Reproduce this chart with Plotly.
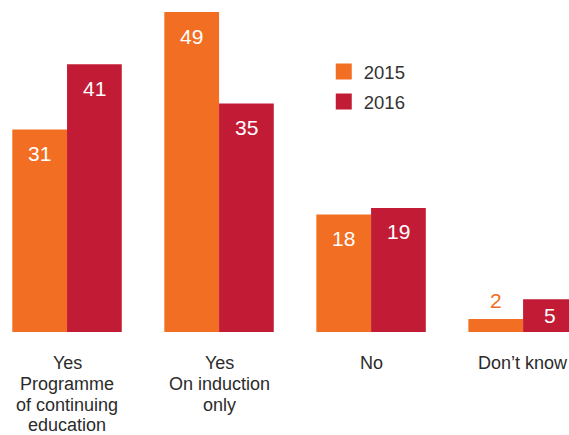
import plotly.graph_objects as go

categories = ["Yes<br>Programme<br>of continuing<br>education", "Yes<br>On induction<br>only", "No", "Don’t know"]
years = ["2015", "2016"]
values_2015 = [31, 49, 18, 2]
values_2016 = [41, 35, 19, 5]
colors = ["#F26E22", "#C21B35"]

xpos = list(range(len(categories)))
fig = go.Figure()
series = [values_2015, values_2016]
font = "Liberation Sans, Arial, sans-serif"
for name, vals, col in zip(years, series, colors):
    fig.add_trace(go.Bar(x=xpos, y=vals, name=name, marker_color=col,
                         marker_line_width=0, showlegend=False))
# legend proxies with larger square symbols
for name, col in zip(years, colors):
    fig.add_trace(go.Scatter(x=[None], y=[None], mode="markers", name=name,
                             legendgroup=name,
                             marker=dict(symbol="square", size=16, color=col)))

offset = 0.18
px_per_unit = 320.5 / 49
for i, (vals, col) in enumerate(zip(series, colors)):
    dx = -offset if i == 0 else offset
    for x, v in zip(xpos, vals):
        h = v * px_per_unit
        if h > 50:
            fig.add_annotation(x=x + dx, y=v, yshift=-24, text=str(v), showarrow=False,
                               font=dict(color="white", size=21, family=font))
        elif h > 25:
            fig.add_annotation(x=x + dx, y=v / 2, text=str(v), showarrow=False,
                               font=dict(color="white", size=21, family=font))
        else:
            fig.add_annotation(x=x + dx, y=v, yshift=18, text=str(v), showarrow=False,
                               font=dict(color=col, size=21, family=font))

# category labels (one annotation per line for tighter line spacing)
line_gap = 20.8
for x, cat in zip(xpos, categories):
    for k, line in enumerate(cat.split("<br>")):
        fig.add_annotation(x=x, xref="x", y=0, yref="y", yanchor="middle",
                           yshift=-(31 + k * line_gap), text=line, showarrow=False,
                           font=dict(color="#2b2b2b", size=18, family=font))

fig.update_layout(
    width=569, height=435,
    margin=dict(l=0, r=0, t=11.5, b=103),
    plot_bgcolor="white", paper_bgcolor="white",
    barmode="group", bargap=0.28, bargroupgap=0,
    font=dict(family=font, size=18, color="#333333"),
    showlegend=True,
    legend=dict(x=0.569, y=0.872, xanchor="left", yanchor="top",
                font=dict(size=18.5, color="#333333"), bgcolor="rgba(0,0,0,0)",
                tracegroupgap=3, itemsizing="trace"),
    xaxis=dict(range=[-0.441, 3.302], tickvals=xpos, showticklabels=False,
               showgrid=False, zeroline=False, showline=False, ticks="",
               automargin=False),
    yaxis=dict(range=[0, 49], visible=False, showgrid=False, zeroline=False,
               automargin=False),
)
fig.write_html("out.html")
